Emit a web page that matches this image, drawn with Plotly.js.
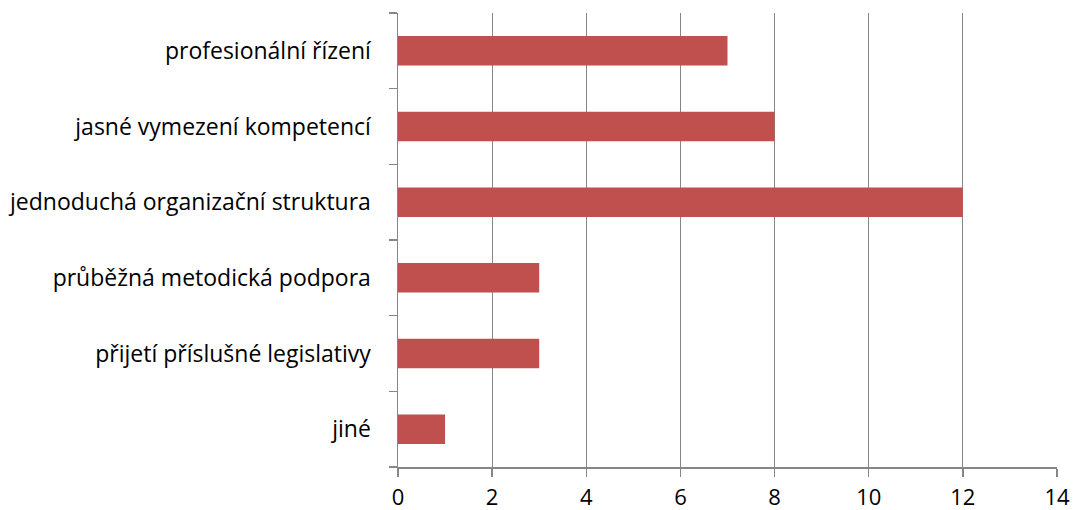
<!DOCTYPE html>
<html>
<head>
<meta charset="utf-8">
<script src="https://cdn.plot.ly/plotly-3.0.1.min.js"></script>
<style>
  html, body { margin: 0; padding: 0; background: #fff; }
  #chart { width: 1073px; height: 510px; }
</style>
</head>
<body>
<div id="chart"></div>
<script>
// Kategorie (od spodu nahoru, jak je kreslí Plotly)
const categories = [
    "jiné",
    "přijetí příslušné legislativy",
    "průběžná metodická podpora",
    "jednoduchá organizační struktura",
    "jasné vymezení kompetencí",
    "profesionální řízení"
];
const counts = [1, 3, 3, 12, 8, 7];
const xTicks = [0, 2, 4, 6, 8, 10, 12, 14];

const barTrace = {
    type: "bar",
    orientation: "h",
    y: categories,
    x: counts,
    marker: { color: "#C0504D" },
    width: 0.39,
    hoverinfo: "x+y"
};

const layout = {
    width: 1073,
    height: 510,
    margin: { l: 398, r: 16, t: 13, b: 43 },
    paper_bgcolor: "#ffffff",
    plot_bgcolor: "#ffffff",
    font: { family: "'Open Sans', sans-serif", size: 23, color: "#000000" },
    showlegend: false,
    bargap: 0.61,
    xaxis: {
        range: [0, 14],
        tickvals: xTicks,
        ticktext: xTicks.map(String),
        showgrid: true,
        gridcolor: "#868686",
        gridwidth: 1,
        zeroline: false,
        showline: true,
        linecolor: "#868686",
        linewidth: 1.5,
        ticks: "outside",
        ticklen: 8,
        tickcolor: "#868686",
        tickwidth: 1.5,
        tickfont: { size: 22 },
        ticklabelstandoff: 2,
        fixedrange: true
    },
    yaxis: {
        type: "category",
        categoryorder: "array",
        categoryarray: categories,
        range: [-0.5, 5.5],
        showgrid: false,
        zeroline: false,
        showline: true,
        linecolor: "#868686",
        linewidth: 1.5,
        ticks: "outside",
        tickson: "boundaries",
        ticklen: 8,
        tickcolor: "#868686",
        tickwidth: 1.5,
        tickfont: { size: 23 },
        ticklabelstandoff: 21,
        fixedrange: true
    }
};

Plotly.newPlot("chart", [barTrace], layout, { displayModeBar: false, staticPlot: true });
</script>
</body>
</html>
